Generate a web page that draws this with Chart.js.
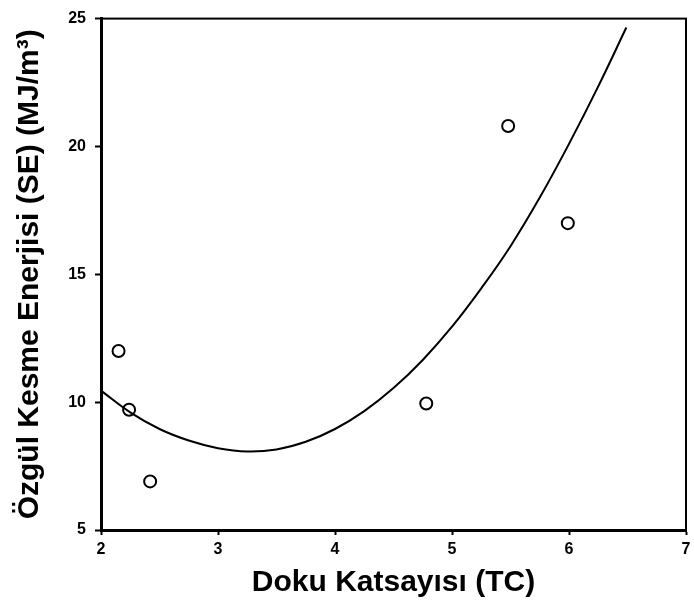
<!DOCTYPE html>
<html>
<head>
<meta charset="utf-8">
<script src="https://cdn.jsdelivr.net/npm/chart.js@4/dist/chart.umd.min.js"></script>
<style>
  body { margin: 0; background: #fff; }
  canvas { display: block; }
</style>
</head>
<body>
<canvas id="myChart" width="694" height="613"></canvas>
<script>
// measured points (TC, SE)
const tcValues = [2.15, 2.24, 2.42, 4.78, 5.48, 5.99];
const seValues = [12.0, 9.7, 6.9, 9.95, 20.8, 17.0];

// fitted curve
const curveTC = [2.0, 2.25, 2.5, 2.75, 3.0, 3.25, 3.5, 3.75, 4.0, 4.25, 4.5, 4.75, 5.0, 5.25, 5.5, 5.75, 6.0, 6.25, 6.49];
const curveSE = [10.45, 9.6, 8.95, 8.5, 8.2, 8.07, 8.15, 8.45, 8.95, 9.65, 10.55, 11.65, 12.95, 14.45, 16.1, 18.0, 20.1, 22.35, 24.65];

const xTicks = [2, 3, 4, 5, 6, 7];
const yTicks = [5, 10, 15, 20, 25];

const xTitle = "Doku Katsayısı (TC)";
const yTitle = "Özgül Kesme Enerjisi (SE) (MJ/m³)";

const ctx = document.getElementById("myChart");

const frame = {
  id: "frame",
  afterDraw(chart) {
    const { ctx, chartArea: a } = chart;
    ctx.save();
    ctx.strokeStyle = "#000";
    ctx.lineWidth = 2;
    ctx.strokeRect(a.left, a.top, a.right - a.left, a.bottom - a.top);
    ctx.restore();
  },
};

const titleFont = { family: "'Liberation Sans', Arial, sans-serif", size: 30, weight: "bold" };
const tickFont = { family: "'Liberation Sans', Arial, sans-serif", size: 16, weight: "bold" };

new Chart(ctx, {
  type: "scatter",
  data: {
    datasets: [
      {
        type: "line",
        data: curveTC.map((x, i) => ({ x: x, y: curveSE[i] })),
        borderColor: "#000",
        borderWidth: 2,
        pointRadius: 0,
        fill: false,
        tension: 0.4,
      },
      {
        data: tcValues.map((x, i) => ({ x: x, y: seValues[i] })),
        pointRadius: 6,
        pointBorderWidth: 2,
        pointBorderColor: "#000",
        pointBackgroundColor: "rgba(0,0,0,0)",
      },
    ],
  },
  options: {
    responsive: false,
    animation: false,
    layout: { padding: { top: 15, right: 2, left: 0, bottom: 0 } },
    plugins: { legend: { display: false }, tooltip: { enabled: false } },
    scales: {
      x: {
        type: "linear",
        min: 2,
        max: 7,
        afterBuildTicks: (s) => { s.ticks = xTicks.map((v) => ({ value: v })); },
        afterFit: (s) => { s.height = 83; s.paddingLeft = 0; s.paddingRight = 0; },
        ticks: { color: "#000", font: tickFont, padding: 5, maxRotation: 0 },
        grid: { drawOnChartArea: false, tickLength: 5, tickColor: "#000", tickWidth: 2 },
        border: { color: "#000", width: 3 },
        title: { display: true, text: xTitle, color: "#000", font: titleFont, padding: { top: 0, bottom: 12 } },
      },
      y: {
        type: "linear",
        min: 5,
        max: 25,
        afterBuildTicks: (s) => { s.ticks = yTicks.map((v) => ({ value: v })); },
        afterFit: (s) => { s.width = 101; },
        ticks: { color: "#000", font: tickFont, padding: 9 },
        grid: { drawOnChartArea: false, tickLength: 6, tickColor: "#000", tickWidth: 2 },
        border: { color: "#000", width: 3 },
        title: { display: true, text: yTitle, color: "#000", font: titleFont, padding: { top: 12, bottom: 0 } },
      },
    },
  },
  plugins: [frame],
});
</script>
</body>
</html>
